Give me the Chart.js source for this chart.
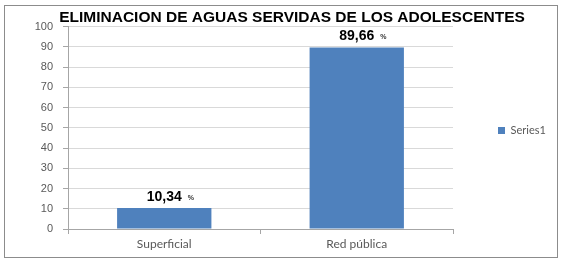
<!DOCTYPE html>
<html>
<head>
<meta charset="utf-8">
<script src="https://cdn.jsdelivr.net/npm/chart.js@4"></script>
<style>
  html, body { margin: 0; padding: 0; background: #fff; }
  #wrap { position: relative; width: 565px; height: 261px; }
</style>
</head>
<body>
<div id="wrap"><canvas id="chart" width="565" height="261"></canvas></div>
<script>
/* ---- data ---- */
const chartTitle = 'ELIMINACION DE AGUAS SERVIDAS DE LOS ADOLESCENTES';
const categories = ['Superficial', 'Red pública'];
const seriesName = 'Series1';
const values     = [10.34, 89.66];
const yMin = 0, yMax = 100, yStep = 10;

// frame round the whole chart
const framePlugin = {
  id: 'frame',
  beforeDraw(chart) {
    const ctx = chart.ctx;
    ctx.save();
    ctx.fillStyle = '#fff';
    ctx.fillRect(0, 0, chart.width, chart.height);
    ctx.strokeStyle = '#8c8c8c';
    ctx.lineWidth = 1;
    ctx.strokeRect(4.5, 5.5, 553, 252);
    ctx.restore();
  }
};

// "10,34 %" labels over the bars
const valueLabels = {
  id: 'valueLabels',
  afterDatasetsDraw(chart) {
    const ctx = chart.ctx;
    const meta = chart.getDatasetMeta(0);
    ctx.save();
    ctx.fillStyle = '#000';
    ctx.textBaseline = 'middle';
    ctx.textAlign = 'left';
    meta.data.forEach((bar, i) => {
      const txt = values[i].toFixed(2).replace('.', ',');
      ctx.font = 'bold 14px "Liberation Sans", Arial, sans-serif';
      const w = ctx.measureText(txt).width;
      const x = bar.x - w / 2;
      const y = bar.y - 11;
      ctx.fillText(txt, x, y);
      ctx.fillStyle = '#333';
      ctx.font = 'bold 7px "Liberation Sans", Arial, sans-serif';
      ctx.fillText('%', x + w + 6, y + 1);
      ctx.fillStyle = '#000';
    });
    ctx.restore();
  }
};

new Chart(document.getElementById('chart'), {
  type: 'bar',
  data: {
    labels: categories,
    datasets: [{
      label: seriesName,
      data: values,
      backgroundColor: '#4f81bd',
      borderWidth: 0,
      categoryPercentage: 1,
      barPercentage: 0.49,
    }],
  },
  options: {
    responsive: false,
    animation: false,
    layout: { padding: { left: 33, right: 14, top: 0, bottom: 0 } },
    plugins: {
      title: {
        display: true,
        text: chartTitle,
        color: '#000',
        font: { family: '"Liberation Sans", Arial, sans-serif', size: 15.5, weight: 'bold' },
        padding: { top: 8, bottom: 0 },
      },
      legend: {
        position: 'right',
        maxWidth: 98,
        labels: {
          boxWidth: 7,
          boxHeight: 7,
          padding: 45,
          color: '#595959',
          font: { family: 'Lato, sans-serif', size: 11 },
        },
      },
      tooltip: { enabled: false },
    },
    scales: {
      x: {
        afterFit(scale) { scale.height = 32; },
        grid: { drawOnChartArea: false, drawTicks: true, tickLength: 5, tickColor: '#a6a6a6' },
        border: { color: '#a6a6a6' },
        ticks: { color: '#595959', padding: 3, font: { family: 'Lato, sans-serif', size: 12 } },
      },
      y: {
        min: yMin,
        max: yMax,
        afterFit(scale) { scale.width = 35; },
        grid: { color: '#d9d9d9', tickLength: 5, tickColor: '#a6a6a6' },
        border: { color: '#a6a6a6' },
        ticks: {
          stepSize: yStep,
          padding: 10,
          color: '#595959',
          font: { family: '"Liberation Sans", Arial, sans-serif', size: 11 },
        },
      },
    },
  },
  plugins: [framePlugin, valueLabels],
});
</script>
</body>
</html>
